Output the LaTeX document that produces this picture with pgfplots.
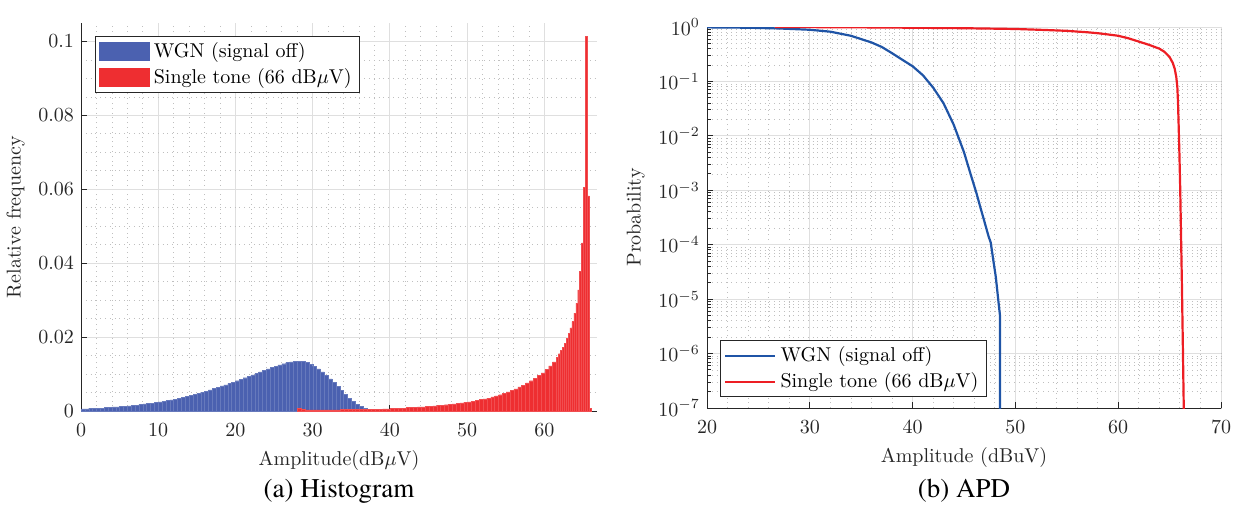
\documentclass[border=0pt]{standalone}
\usepackage{fontspec}
\usepackage{pgfplots}
\pgfplotsset{compat=1.18}
\newfontfamily\capfont{texgyretermes-regular.otf}

\definecolor{histblue}{RGB}{75,97,176}
\definecolor{histred}{RGB}{238,46,49}
\definecolor{apdblue}{RGB}{31,84,166}
\definecolor{apdred}{RGB}{237,30,36}
\definecolor{axisgray}{RGB}{38,38,38}

\pgfplotsset{matlab/.style={
  scale only axis,
  axis x line*=bottom, axis y line*=left,
  axis line style={axisgray, line width=0.5pt, -},
  tick align=inside,
  major tick length=3pt,
  minor tick length=2pt,
  tick style={axisgray, line width=0.5pt},
  grid=both,
  major grid style={gray!25, line width=0.5pt},
  minor grid style={gray!50, line width=0.4pt, dotted},
  ticklabel style={text=axisgray},
  xticklabel style={yshift=-3pt},
  label style={text=axisgray},
  legend cell align=left,
  legend style={draw=axisgray, line width=0.5pt, fill=white,
    inner xsep=2pt, inner ysep=1pt, row sep=0pt},
}}

% histogram bins: left edge, height (last row closes the interval)
\pgfplotstableread{
x y
0 0.0006
0.5 0.0006
1 0.0007
1.5 0.0007
2 0.0008
2.5 0.0008
3 0.0009
3.5 0.0010
4 0.0011
4.5 0.0011
5 0.0012
5.5 0.0013
6 0.0014
6.5 0.0015
7 0.0016
7.5 0.0018
8 0.0019
8.5 0.0020
9 0.0021
9.5 0.0023
10 0.0025
10.5 0.0026
11 0.0028
11.5 0.0030
12 0.0032
12.5 0.0034
13 0.0037
13.5 0.0039
14 0.0042
14.5 0.0045
15 0.0048
15.5 0.0051
16 0.0054
16.5 0.0057
17 0.0061
17.5 0.0064
18 0.0068
18.5 0.0071
19 0.0075
19.5 0.0078
20 0.0082
20.5 0.0086
21 0.0090
21.5 0.0094
22 0.0098
22.5 0.0102
23 0.0106
23.5 0.0110
24 0.0114
24.5 0.0118
25 0.0121
25.5 0.0125
26 0.0128
26.5 0.0131
27 0.0133
27.5 0.0135
28 0.0135
28.5 0.0134
29 0.0131
29.5 0.0127
30 0.0121
30.5 0.0114
31 0.0106
31.5 0.0097
32 0.0087
32.5 0.0077
33 0.0066
33.5 0.0056
34 0.0045
34.5 0.0035
35 0.0026
35.5 0.0018
36 0.0012
36.5 0.0007
37 0.0004
37.5 0.0002
38 0.0002
}\wgnhist

\pgfplotstableread{
x y
28.05 0.0007
28.55 0.0005
29.05 0.0003
29.55 0.0003
30.05 0.0003
30.55 0.0003
31.05 0.0003
31.55 0.0003
32.05 0.0003
32.55 0.0003
33.05 0.0003
33.55 0.0004
34.05 0.0004
34.55 0.0004
35.05 0.0004
35.55 0.0004
36.05 0.0004
36.55 0.0004
37.05 0.0004
37.55 0.0005
38.05 0.0005
38.55 0.0005
39.05 0.0006
39.55 0.0006
40.05 0.0007
40.55 0.0007
41.05 0.0008
41.55 0.0008
42.05 0.0009
42.55 0.0009
43.05 0.0010
43.55 0.0011
44.05 0.0011
44.55 0.0012
45.05 0.0013
45.55 0.0014
46.05 0.0015
46.55 0.0016
47.05 0.0017
47.55 0.0018
48.05 0.0019
48.55 0.0021
49.05 0.0022
49.55 0.0024
50.05 0.0025
50.55 0.0027
51.05 0.0029
51.55 0.0031
52.05 0.0033
52.55 0.0035
53.05 0.0038
53.55 0.0041
54.05 0.0044
54.55 0.0048
55.05 0.0052
55.55 0.0056
56.05 0.0060
56.55 0.0065
57.05 0.0070
57.55 0.0076
58.05 0.0082
58.55 0.0089
59.05 0.0096
59.55 0.0103
60.05 0.0112
60.55 0.0122
61.05 0.0133
61.55 0.0145
61.8 0.0155
62.05 0.0164
62.3 0.0172
62.55 0.0184
62.8 0.0197
63.05 0.0211
63.3 0.0225
63.55 0.0242
63.8 0.0265
64.05 0.0292
64.3 0.0328
64.55 0.0378
64.8 0.0455
65.05 0.0606
65.3 0.1013
65.5 0.0582
65.8 0.0007
66.1 0.0007
}\tonehist

\begin{document}
\begin{tikzpicture}
\path[use as bounding box] (0,0) rectangle (620pt,252pt);

% (a) histogram
\begin{axis}[matlab,
  at={(40.5pt,46.5pt)}, anchor=south west,
  width=258pt, height=194pt,
  xmin=0, xmax=66.8, ymin=0, ymax=0.105,
  xtick={0,10,20,30,40,50,60},
  ytick={0,0.02,0.04,0.06,0.08,0.1},
  minor x tick num=4, minor y tick num=3,
  minor tick length=0pt,
  scaled y ticks=false,
  yticklabel style={/pgf/number format/fixed, /pgf/number format/precision=2},
  xlabel={Amplitude(dB$\mu$V)},
  ylabel={Relative frequency},
  legend style={at={(0.027,0.966)}, anchor=north west},
]
\addplot[ybar interval, fill=histblue, draw=histblue!85!white, line width=0.2pt,
  legend image code/.code={\fill[histblue] (0pt,-4.5pt) rectangle (25pt,4.5pt);}]
  table[x=x, y=y] {\wgnhist};
\addlegendentry{WGN (signal off)}
\addplot[ybar interval, fill=histred, draw=histred!85!white, line width=0.2pt,
  legend image code/.code={\fill[histred] (0pt,-4.5pt) rectangle (25pt,4.5pt);}]
  table[x=x, y=y] {\tonehist};
\addlegendentry{Single tone (66 dB$\mu$V)}
\end{axis}

% (b) APD
\begin{axis}[matlab,
  at={(353.5pt,48pt)}, anchor=south west,
  width=257pt, height=190.5pt,
  ymode=log,
  xmin=20, xmax=70, ymin=1e-7, ymax=1,
  xtick={20,30,40,50,60,70},
  ytickten={-7,-6,-5,-4,-3,-2,-1,0},
  minor x tick num=4,
  minor x tick style={draw=none},
  xlabel={Amplitude (dBuV)},
  ylabel={Probability},
  legend style={at={(0.025,0.028)}, anchor=south west},
  legend image code/.code={\draw[#1] (0pt,0pt) -- (25pt,0pt);},
]
\addplot[apdblue, line width=1.1pt] coordinates {
  (20,0.985) (24,0.97) (27,0.94) (30,0.89) (32,0.82) (34,0.69) (36,0.52)
  (37,0.43) (38,0.33) (39,0.25) (40,0.19) (41,0.13) (42,0.077) (43,0.040)
  (44,0.016) (45,0.0050) (45.6,0.0021) (46.2,0.0009) (46.6,0.00048)
  (47.0,0.00026) (47.4,0.00014) (47.6,0.00011) (47.8,6e-5) (48.1,2.5e-5)
  (48.35,9e-6) (48.5,5e-6) (48.52,1e-9)
};
\addlegendentry{WGN (signal off)}
\addplot[apdred, line width=1.1pt] coordinates {
  (26.6,1.0) (30,0.995) (35,0.985) (40,0.97) (45,0.95) (50,0.92) (53,0.88)
  (55,0.85) (57,0.80) (58,0.77) (59,0.73) (60,0.69) (61,0.62) (62,0.54)
  (63,0.47) (64,0.40) (64.5,0.35) (65,0.28) (65.3,0.22) (65.5,0.17)
  (65.65,0.12) (65.75,0.08) (65.82,0.04) (65.87,0.018) (65.95,0.005)
  (66.03,1.1e-3) (66.1,2e-4) (66.2,1.7e-5) (66.3,1e-6) (66.4,5e-8) (66.42,1e-9)
};
\addlegendentry{Single tone (66 dB$\mu$V)}
\end{axis}

\node[anchor=base] at (169.5pt,3.5pt) {\capfont\fontsize{13.5}{16}\selectfont (a) Histogram};
\node[anchor=base] at (482pt,3.5pt) {\capfont\fontsize{13.5}{16}\selectfont (b) APD};
\end{tikzpicture}
\end{document}
